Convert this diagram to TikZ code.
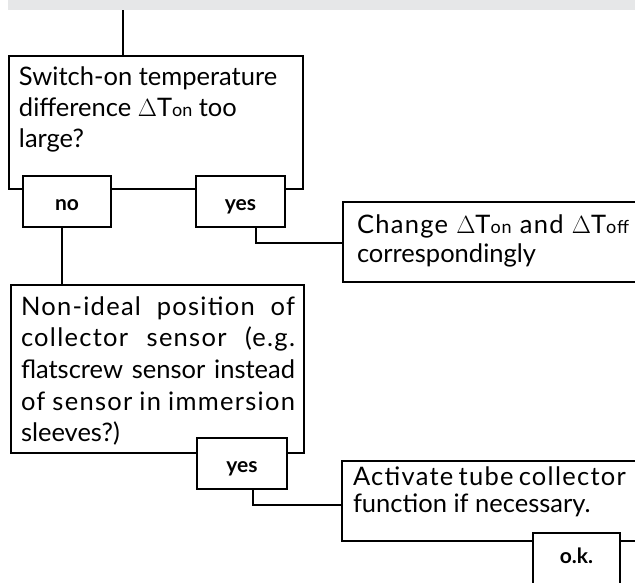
\documentclass[tikz,border=0pt]{standalone}
\usepackage{fontspec}
\setmainfont{Lato}
\newfontfamily\lsp[LetterSpace=5]{Lato}
\definecolor{bandgray}{HTML}{E6E7E8}
\newcommand\sm[1]{{\fontsize{18}{18}\selectfont #1}}
\newcommand\jl[1]{\makebox[\linewidth][s]{#1}}
\tikzset{
  box/.style={draw, line width=1.4pt, inner sep=0pt, outer sep=0pt, anchor=north west, fill=white},
  lab/.style={box, font=\fontsize{21}{21}\selectfont\bfseries, text height=17pt, text depth=0pt},
  conn/.style={line width=1.4pt},
  txt/.style={anchor=base west, inner sep=0pt, outer sep=0pt},
}
\begin{document}
\begin{tikzpicture}[x=1pt,y=-1pt]
\useasboundingbox (0,0) rectangle (635,582);
\clip (0,0) rectangle (635,582);
\node (band) [anchor=north west, fill=bandgray, inner sep=0pt, outer sep=0pt, minimum width=640pt, minimum height=10pt] at (8,0) {};
% question 1
\node (q1) [box, minimum width=294pt, minimum height=133pt] at (9,56) {};
\node (q1t) [txt] at (19,85) {\parbox[t]{285pt}{\fontsize{25.5}{31}\selectfont\raggedright
Switch-on temperature\\
difference $\Delta$T\sm{on} too\\
large?}};
\node (no) [lab, minimum width=88pt, minimum height=51pt] at (23,176) {no};
\node (yes1) [lab, minimum width=89pt, minimum height=51pt] at (196,176) {yes};
% change
\node (change) [box, minimum width=400pt, minimum height=80pt] at (343,202) {};
\node (changet) [txt] at (357,233) {\parbox[t]{272pt}{\fontsize{25.5}{29.5}\selectfont\raggedright
\jl{\lsp Change $\Delta$T\sm{on} and $\Delta$T\sm{off}}\\
correspondingly}};
% question 2
\node (q2) [box, minimum width=293pt, minimum height=168pt] at (11,285) {};
\node (q2t) [txt] at (21,315) {\parbox[t]{274pt}{\fontsize{25.5}{31.7}\selectfont\raggedright
\jl{\lsp Non-ideal position of}\\
\jl{\lsp collector sensor (e.g.}\\
\jl{flatscrew sensor instead}\\
\jl{\lsp of sensor in immersion}\\
sleeves?)}};
\node (yes2) [lab, minimum width=90pt, minimum height=51pt] at (197,438) {yes};
% activate
\node (act) [box, minimum width=400pt, minimum height=80pt] at (342,461) {};
\node (actt) [txt] at (353,485) {\parbox[t]{272pt}{\fontsize{25.5}{27.7}\selectfont\raggedright
\jl{\lsp Activate tube collector}\\
function if necessary.}};
\node (ok) [lab, minimum width=87pt, minimum height=80pt] at (533,533) {};
\node (okt) [anchor=base, inner sep=0pt, font=\fontsize{21}{21}\selectfont\bfseries] at (576.5,563) {o.k.};
% connectors
\coordinate (c0) at (123,0);
\coordinate (c1) at (62,0);
\coordinate (c2) at (256,243);
\coordinate (c3) at (253,505);
\draw[conn] (band.south -| c0) -- (q1.north -| c0);
\draw[conn] (no.south -| c1) -- (q2.north -| c1);
\draw[conn] (yes1.south -| c2) |- (change.west |- c2);
\draw[conn] (yes2.south -| c3) |- (act.west |- c3);
\end{tikzpicture}
\end{document}
